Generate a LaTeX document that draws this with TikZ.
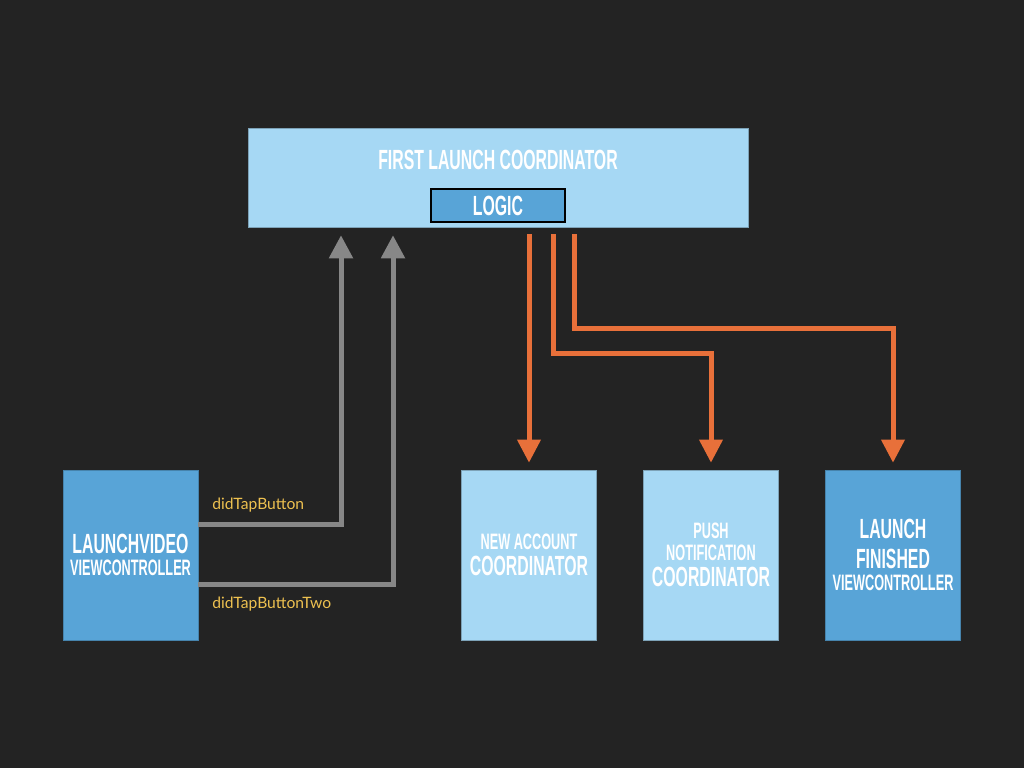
\documentclass[tikz,border=0pt]{standalone}
\usepackage{fontspec}
\setmainfont{Lato}
\newfontfamily\dinfont{Liberation Sans}[FakeStretch=0.57]
\usetikzlibrary{calc,positioning}
\usetikzlibrary{arrows.meta}
\definecolor{bgdark}{HTML}{232323}
\definecolor{paleblue}{HTML}{A6D8F4}
\definecolor{midblue}{HTML}{58A4D7}
\definecolor{floworange}{HTML}{E8703A}
\definecolor{tapgray}{HTML}{878787}
\definecolor{tagyellow}{HTML}{EEC150}
\newcommand\bigcaps{\dinfont\bfseries\fontsize{15.8}{12.5}\selectfont}
\newcommand\smallcaps{\dinfont\bfseries\fontsize{12.7}{12.5}\selectfont}

\begin{document}
\begin{tikzpicture}[x=0.2mm,y=-0.2mm,
	coord/.style={draw=paleblue!75!black,line width=0.3pt,fill=paleblue,text=white,inner sep=0pt},
	ctrl/.style={draw=midblue!80!black,line width=0.3pt,fill=midblue,text=white,inner sep=0pt},
	screen/.style={minimum width=27mm,minimum height=34mm,align=center,font=\smallcaps},
	tap/.style={draw=tapgray,line width=1mm,-{Triangle[width=4.6mm,length=4.6mm]},shorten >=1.6mm},
	flow/.style={draw=floworange,line width=1mm,-{Triangle[width=4.5mm,length=4.6mm]},shorten <=1.4mm,shorten >=1.4mm},
	tag/.style={text=tagyellow,font=\fontsize{8.9}{10}\selectfont,anchor=west,inner sep=0pt}]
	\fill[bgdark] (0,0) rectangle (1024,768);
	
	\node[coord,minimum width=100mm,minimum height=19.8mm] (flc) at (498,177.5) {};
	\node[text=white,font=\bigcaps] (title) at (498,160) {FIRST LAUNCH COORDINATOR};
	\node[fill=midblue,draw=black,line width=0.4mm,text=white,font=\bigcaps,minimum width=26.8mm,minimum height=6.6mm,inner sep=0pt] (logic) at (498,205.5) {LOGIC};
	
	\node[ctrl,screen] (lvc) at (130.5,555) {{\bigcaps LAUNCHVIDEO}\\VIEWCONTROLLER};
	\node[coord,screen] (nac) at (529,555) {NEW ACCOUNT\\[2.2pt]{\bigcaps COORDINATOR}};
	\node[coord,screen] (pnc) at (711,555) {PUSH\\NOTIFICATION\\[2.2pt]{\bigcaps COORDINATOR}};
	\node[ctrl,screen] (lfv) at (893,555) {{\bigcaps LAUNCH}\\[4.5pt]{\bigcaps FINISHED}\\VIEWCONTROLLER};
	
	\draw[tap] ($(lvc.east)+(0,-30.5)$) -| ($(flc.south)+(-157,0)$);
	\draw[tap] ($(lvc.east)+(0,29.5)$) -| ($(flc.south)+(-105,0)$);
	\node[tag] (tap1) at (212,505) {didTapButton};
	\node[tag] (tap2) at (212,604.5) {didTapButtonTwo};
	
	\draw[flow] (nac.north |- flc.south) -- (nac.north);
	\draw[flow] ($(flc.south)+(55,0)$) -- ++(0,126) -| (pnc.north);
	\draw[flow] ($(flc.south)+(76.5,0)$) -- ++(0,101) -| (lfv.north);
\end{tikzpicture}
\end{document}
